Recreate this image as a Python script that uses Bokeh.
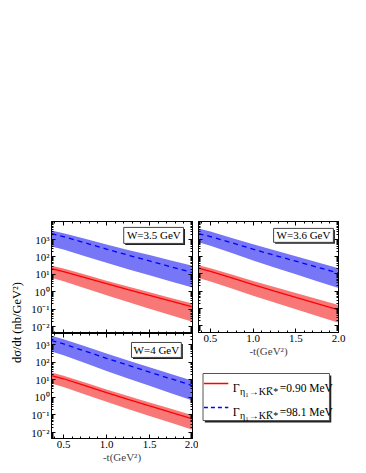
import math
from bokeh.plotting import figure
from bokeh.models import (Range1d, FixedTicker, LinearAxis, LogAxis, CustomJSTickFormatter,
                          PrintfTickFormatter, Label, BoxAnnotation, ColumnDataSource)
from bokeh.layouts import row, column
from bokeh.embed import file_html
from bokeh.resources import INLINE

FONT = "Liberation Serif"

# -t (GeV^2)
t = [0.36, 0.5, 0.75, 1.0, 1.25, 1.5, 1.75, 2.0]

# W = 3.5 GeV  (dsigma/dt in nb/GeV^2)
w35_red_mid = [21.4, 14.6, 6.5, 2.89, 1.32, 0.617, 0.288, 0.135]
w35_red_hi = [31.6, 21.7, 9.7, 4.36, 2.0, 0.94, 0.444, 0.209]
w35_red_lo = [6.31, 4.07, 1.60, 0.632, 0.256, 0.107, 0.0446, 0.0186]
w35_blue_mid = [2188, 1486, 652, 285, 128, 59.2, 27.3, 12.6]
w35_blue_hi = [3311, 2333, 1109, 527, 256, 128, 63.5, 31.6]
w35_blue_lo = [398, 265, 111, 46.6, 20.0, 8.87, 3.93, 1.74]

# W = 3.6 GeV
w36_red_mid = [21.4, 14.1, 5.81, 2.39, 1.01, 0.44, 0.191, 0.083]
w36_red_hi = [31.6, 21.2, 9.1, 3.90, 1.72, 0.776, 0.351, 0.158]
w36_red_lo = [5.75, 3.68, 1.42, 0.546, 0.216, 0.0885, 0.0361, 0.0148]
w36_blue_mid = [2188, 1472, 634, 272, 120, 54.6, 24.7, 11.2]
w36_blue_hi = [4266, 2864, 1227, 526, 232, 105, 47.3, 21.4]
w36_blue_lo = [676, 428, 161, 60.7, 23.6, 9.44, 3.78, 1.51]

# W = 4 GeV
w4_red_mid = [17.4, 11.4, 4.59, 1.85, 0.771, 0.33, 0.141, 0.0603]
w4_red_hi = [25.7, 16.9, 6.9, 2.82, 1.18, 0.512, 0.221, 0.0955]
w4_red_lo = [6.03, 3.83, 1.46, 0.556, 0.218, 0.0883, 0.0357, 0.0145]
w4_blue_mid = [1698, 1091, 425, 166, 66.4, 27.4, 11.3, 4.68]
w4_blue_hi = [3162, 2037, 796, 311, 125, 51.9, 21.5, 8.91]
w4_blue_lo = [398, 246, 88.5, 31.8, 11.8, 4.51, 1.73, 0.661]

x_major = [0.5, 1.0, 1.5, 2.0]
x_minor = [0.4, 0.6, 0.7, 0.8, 0.9, 1.1, 1.2, 1.3, 1.4, 1.6, 1.7, 1.8, 1.9]
y_major = [0.01, 0.1, 1, 10, 100, 1000]
y_minor = [m * 10.0 ** e for e in range(-3, 4) for m in range(2, 10)]

RED_FILL = "#f87878"
BLUE_FILL = "#7676f6"
RED_LINE = "red"
BLUE_LINE = "blue"

blank_fmt_code = "return ''"
sup_code = """
const e = Math.round(Math.log10(tick));
const sup = {'-':'\u207b','0':'\u2070','1':'\u00b9','2':'\u00b2','3':'\u00b3','4':'\u2074'};
return '10' + String(e).split('').map(c => sup[c]).join('');
"""


def tick_style(ax, labels):
    ax.major_tick_in = 4
    ax.major_tick_out = 0
    ax.minor_tick_in = 2
    ax.minor_tick_out = 0
    ax.axis_line_color = "black"
    ax.major_tick_line_color = "black"
    ax.minor_tick_line_color = "black"
    if labels:
        ax.major_label_text_font = FONT
        ax.major_label_text_font_size = "11px"
        ax.major_label_text_color = "black"
        ax.major_label_standoff = 2
    else:
        ax.formatter = CustomJSTickFormatter(code=blank_fmt_code)
        ax.major_label_text_font_size = "0px"
        ax.major_label_standoff = 0


def panel(fw, fh, yr, bl, bt, br, bb, xlabels, ylabels, xtitle,
          red_mid, red_hi, red_lo, blue_mid, blue_hi, blue_lo,
          wtext, box, tpos):
    p = figure(frame_width=fw, frame_height=fh, x_range=Range1d(0.36, 2.0),
               y_range=Range1d(*yr), y_axis_type="log",
               min_border_left=bl, min_border_top=bt, min_border_right=br,
               min_border_bottom=bb, toolbar_location=None, output_backend="svg",
               outline_line_color="black", background_fill_color="white",
               border_fill_color="white")
    p.xgrid.visible = False
    p.ygrid.visible = False

    src = ColumnDataSource(dict(t=t, rm=red_mid, rh=red_hi, rl=red_lo,
                                bm=blue_mid, bh=blue_hi, bl=blue_lo))
    p.varea(x="t", y1="bl", y2="bh", source=src, fill_color=BLUE_FILL)
    p.varea(x="t", y1="rl", y2="rh", source=src, fill_color=RED_FILL)
    p.line(x="t", y="bm", source=src, color=BLUE_LINE, line_width=1.3, line_dash="5 4")
    p.line(x="t", y="rm", source=src, color=RED_LINE, line_width=1.3)

    xt = FixedTicker(ticks=x_major, minor_ticks=x_minor)
    yt = FixedTicker(ticks=y_major, minor_ticks=y_minor)

    xa = p.xaxis[0]
    xa.ticker = xt
    if xlabels:
        xa.formatter = PrintfTickFormatter(format="%.1f")
    tick_style(xa, xlabels)
    if xtitle:
        xa.axis_label = "-t(GeV\u00b2)"
        xa.axis_label_text_font = FONT
        xa.axis_label_text_font_size = "11px"
        xa.axis_label_text_font_style = "normal"
        xa.axis_label_standoff = 0

    ya = p.yaxis[0]
    ya.ticker = yt
    if ylabels:
        ya.formatter = CustomJSTickFormatter(code=sup_code)
    tick_style(ya, ylabels)

    top = LinearAxis(ticker=xt)
    tick_style(top, False)
    p.add_layout(top, "above")
    right = LogAxis(ticker=yt)
    tick_style(right, False)
    p.add_layout(right, "right")

    (l, r, b, tp), (sdx, sdy) = box, (0.018, 0.82)
    p.add_layout(BoxAnnotation(left=l + sdx, right=r + sdx, bottom=b * sdy, top=tp * sdy,
                               fill_color="#222222", fill_alpha=1, line_color=None))
    p.add_layout(BoxAnnotation(left=l, right=r, bottom=b, top=tp,
                               fill_color="white", fill_alpha=1, line_color="#444444",
                               line_alpha=1, line_width=1, line_dash="solid"))
    p.add_layout(Label(x=tpos[0], y=tpos[1], text=wtext, text_font=FONT,
                       text_font_size="11px", text_align="center",
                       text_baseline="middle", text_color="black"))
    return p


tl = panel(141, 112, (0.00398, 10965), 22, 221, 6, 0, False, True, False,
           w35_red_mid, w35_red_hi, w35_red_lo, w35_blue_mid, w35_blue_hi, w35_blue_lo,
           "W=3.5 GeV", (1.20, 1.895, 603, 5012), (1.55, 1738))
tr = panel(140, 111, (0.00398, 10965), 0, 221, 15, 30, True, False, True,
           w36_red_mid, w36_red_hi, w36_red_lo, w36_blue_mid, w36_blue_hi, w36_blue_lo,
           "W=3.6 GeV", (1.24, 1.94, 676, 4365), (1.59, 1718))
bl = panel(141, 105, (0.00457, 4266), 22, 0, 6, 27, True, True, True,
           w4_red_mid, w4_red_hi, w4_red_lo, w4_blue_mid, w4_blue_hi, w4_blue_lo,
           "W=4 GeV", (1.29, 1.87, 186, 1318), (1.58, 495))

# y-axis title column
lab = figure(width=28, height=465, min_border=0, x_range=Range1d(0, 28),
             y_range=Range1d(0, 465), x_axis_type=None, y_axis_type=None,
             outline_line_color=None, toolbar_location=None, output_backend="svg")
lab.xgrid.visible = False
lab.ygrid.visible = False
lab.add_layout(Label(x=16, y=143, text="d\u03c3/dt (nb/GeV\u00b2)", angle=math.pi / 2,
                     text_font=FONT, text_font_size="12.5px", text_align="center",
                     text_baseline="middle", text_color="black"))

# legend panel
leg = figure(width=155, height=103, min_border=0, x_range=Range1d(0, 155),
             y_range=Range1d(0, 103), x_axis_type=None, y_axis_type=None,
             outline_line_color=None, toolbar_location=None, output_backend="svg")
leg.xgrid.visible = False
leg.ygrid.visible = False
leg.add_layout(BoxAnnotation(left=7, right=147, bottom=43, top=90, fill_color="#222222",
                             fill_alpha=1, line_color=None, level="underlay"))
leg.add_layout(BoxAnnotation(left=5, right=145, bottom=45, top=92, fill_color="white",
                             fill_alpha=1, line_color="#555555", line_alpha=1,
                             line_width=1, line_dash="solid", level="underlay"))
leg_labels = ["=0.90 MeV", "=98.1 MeV"]
leg_colors = [RED_LINE, BLUE_LINE]
leg_dash = ["solid", "4 3"]
for i, (txt, col, dsh) in enumerate(zip(leg_labels, leg_colors, leg_dash)):
    yb = 78 - 24 * i
    leg.line(x=[6, 33], y=[yb + 4, yb + 4], color=col, line_dash=dsh, line_width=1.3)
    leg.add_layout(Label(x=38, y=yb, text="\u0393", text_font=FONT, text_font_size="12px",
                         text_baseline="alphabetic", text_color="black"))
    leg.add_layout(Label(x=46, y=yb - 4, text="\u03b7\u2081\u2192KK\u0305*", text_font=FONT,
                         text_font_size="10px", text_baseline="alphabetic", text_color="black"))
    leg.add_layout(Label(x=90, y=yb, text=txt, text_font=FONT, text_font_size="11.5px",
                         text_baseline="alphabetic", text_color="black"))

layout = row(lab, column(tl, bl), column(tr, leg))
open("out.html", "w", encoding="utf-8").write(file_html(layout, INLINE))
